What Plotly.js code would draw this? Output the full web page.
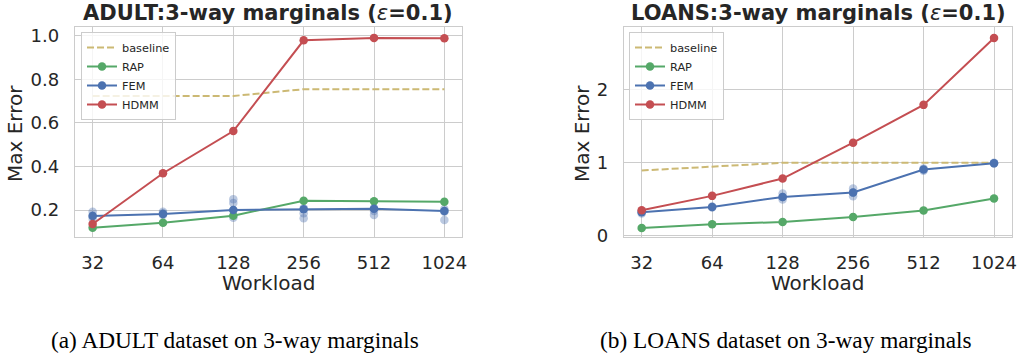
<!DOCTYPE html>
<html>
<head>
<meta charset="utf-8">
<script src="https://cdn.plot.ly/plotly-3.0.1.min.js"></script>
<style>html,body{margin:0;padding:0;background:#fff;}#chart{width:1020px;height:353px;}</style>
</head>
<body>
<div id="chart"></div>
<script>
// ---------- data ----------
const workloads = [32, 64, 128, 256, 512, 1024];
const workloadLabels = ["32", "64", "128", "256", "512", "1024"];

const adultBaseline = [0.724, 0.724, 0.724, 0.755, 0.755, 0.755];
const adultRAP      = [0.119, 0.142, 0.174, 0.243, 0.240, 0.238];
const adultFEM      = [0.172, 0.182, 0.200, 0.203, 0.206, 0.195];
const adultHDMM     = [0.136, 0.369, 0.563, 0.980, 0.991, 0.989];
const adultFEMRuns  = [[0.192, 0.175, 0.160], [0.192, 0.177, 0.185], [0.250, 0.232, 0.200, 0.165],
                       [0.208, 0.185, 0.162], [0.208, 0.195, 0.177], [0.205, 0.192, 0.154]];

const loansBaseline = [0.894, 0.950, 1.000, 1.000, 1.000, 1.000];
const loansRAP      = [0.106, 0.156, 0.188, 0.257, 0.344, 0.509];
const loansFEM      = [0.321, 0.394, 0.532, 0.592, 0.908, 0.995];
const loansHDMM     = [0.349, 0.546, 0.784, 1.275, 1.794, 2.711];
const loansFEMRuns  = [[0.330, 0.305], [0.400, 0.385], [0.578, 0.495, 0.530],
                       [0.647, 0.541, 0.590], [0.920, 0.890], [1.000, 0.990]];

const seriesNames = ["baseline", "RAP", "FEM", "HDMM"];
const titles = ["ADULT:3-way marginals (<span style=\"font-weight:normal\"><i>ε</i></span>=0.1)",
                "LOANS:3-way marginals (<span style=\"font-weight:normal\"><i>ε</i></span>=0.1)"];
const captions = ["(a) ADULT dataset on 3-way marginals", "(b) LOANS dataset on 3-way marginals"];

// ---------- styles ----------
const W = 1020, H = 353;
const colors = {baseline: "#ccb974", RAP: "#55a868", FEM: "#4c72b0", HDMM: "#c44e52"};
const txt = "#262626";
const px = v => v / W;
const py = v => 1 - v / H;

function runsTrace(runs, xa, ya) {
  const xs = [], ys = [];
  runs.forEach((r, i) => r.forEach(v => { xs.push(workloads[i]); ys.push(v); }));
  return {x: xs, y: ys, xaxis: xa, yaxis: ya, mode: "markers", type: "scatter",
          marker: {color: colors.FEM, size: 8.5, opacity: 0.38}, showlegend: false, hoverinfo: "skip"};
}
function seriesTraces(vals, xa, ya, legend) {
  return seriesNames.map((name, k) => {
    const base = {x: workloads, y: vals[k], xaxis: xa, yaxis: ya, name: name, type: "scatter", legend: legend};
    if (name === "baseline") {
      return Object.assign(base, {mode: "lines", line: {color: colors[name], width: 2, dash: "7px,3px"}});
    }
    return Object.assign(base, {mode: "lines+markers", line: {color: colors[name], width: 2},
                                 marker: {color: colors[name], size: 8.5}});
  });
}

const traces = [
  runsTrace(adultFEMRuns, "x", "y"),
  ...seriesTraces([adultBaseline, adultRAP, adultFEM, adultHDMM], "x", "y", "legend"),
  runsTrace(loansFEMRuns, "x2", "y2"),
  ...seriesTraces([loansBaseline, loansRAP, loansFEM, loansHDMM], "x2", "y2", "legend2"),
];

const xRange = [Math.log10(32) - 0.0755, Math.log10(1024) + 0.0755];
const commonX = {
  type: "log", range: xRange, tickvals: workloads, ticktext: workloadLabels,
  showgrid: true, gridcolor: "#cccccc", gridwidth: 1, zeroline: false,
  showline: true, mirror: true, linecolor: "#cccccc", linewidth: 1.25,
  ticks: "outside", ticklen: 9, tickcolor: "rgba(0,0,0,0)",
  tickfont: {family: "DejaVu Sans", size: 18, color: txt}, automargin: false, fixedrange: true
};
const commonY = {
  showgrid: true, gridcolor: "#cccccc", gridwidth: 1, zeroline: false,
  showline: true, mirror: true, linecolor: "#cccccc", linewidth: 1.25,
  ticks: "outside", ticklen: 11, tickcolor: "rgba(0,0,0,0)",
  tickfont: {family: "DejaVu Sans", size: 18, color: txt}, automargin: false, fixedrange: true
};
const yDom = [py(237), py(27)];
const legendStyle = {
  xanchor: "left", yanchor: "top", bgcolor: "rgba(255,255,255,0.8)",
  bordercolor: "#cccccc", borderwidth: 1, traceorder: "normal", tracegroupgap: 0,
  font: {family: "DejaVu Sans", size: 11.3, color: txt}
};

function ann(text, x, y, opts) {
  return Object.assign({text: text, x: px(x), y: py(y), xref: "paper", yref: "paper",
                        showarrow: false, xanchor: "center", yanchor: "middle"}, opts);
}

const layout = {
  width: W, height: H, margin: {l: 0, r: 0, t: 0, b: 0},
  paper_bgcolor: "#ffffff", plot_bgcolor: "#ffffff",
  xaxis: Object.assign({}, commonX, {domain: [px(75), px(462)], anchor: "y"}),
  yaxis: Object.assign({}, commonY, {domain: yDom, anchor: "x", range: [0.076, 1.041],
                        tickvals: [0.2, 0.4, 0.6, 0.8, 1.0], tickformat: ".1f"}),
  xaxis2: Object.assign({}, commonX, {domain: [px(624), px(1011.7)], anchor: "y2"}),
  yaxis2: Object.assign({}, commonY, {domain: yDom, anchor: "x2", range: [-0.018, 2.862],
                         tickvals: [0, 1, 2]}),
  legend: Object.assign({}, legendStyle, {x: px(81), y: py(32)}),
  legend2: Object.assign({}, legendStyle, {x: px(629), y: py(32)}),
  showlegend: true,
  annotations: [
    ann(titles[0], 268, 12.5, {font: {family: "DejaVu Sans", size: 21, color: txt, weight: "bold"}}),
    ann(titles[1], 818, 12.5, {font: {family: "DejaVu Sans", size: 21, color: txt, weight: "bold"}}),
    ann("Workload", 268, 283, {font: {family: "DejaVu Sans", size: 20, color: txt}}),
    ann("Workload", 817, 283, {font: {family: "DejaVu Sans", size: 20, color: txt}}),
    ann("Max Error", 15, 134, {textangle: -90, font: {family: "DejaVu Sans", size: 20, color: txt}}),
    ann("Max Error", 582, 134, {textangle: -90, font: {family: "DejaVu Sans", size: 20, color: txt}}),
    ann(captions[0], 235, 340, {font: {family: "Liberation Serif", size: 23.3, color: "#000"}}),
    ann(captions[1], 785.5, 340, {font: {family: "Liberation Serif", size: 23.3, color: "#000"}}),
  ]
};

Plotly.newPlot("chart", traces, layout, {staticPlot: true, displayModeBar: false});
</script>
</body>
</html>
